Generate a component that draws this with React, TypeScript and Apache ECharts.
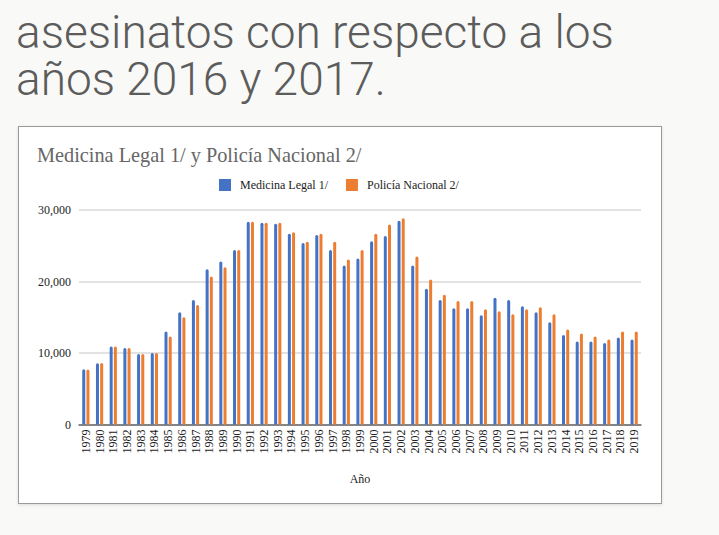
import React, { useEffect, useRef } from "react";
import * as echarts from "echarts";

const years = [
  "1979", "1980", "1981", "1982", "1983", "1984", "1985", "1986", "1987", "1988",
  "1989", "1990", "1991", "1992", "1993", "1994", "1995", "1996", "1997", "1998",
  "1999", "2000", "2001", "2002", "2003", "2004", "2005", "2006", "2007", "2008",
  "2009", "2010", "2011", "2012", "2013", "2014", "2015", "2016", "2017", "2018", "2019",
];

const medicinaLegal = [
  7730, 8570, 10900, 10700, 9870, 10000, 13000, 15700, 17400, 21700,
  22800, 24400, 28350, 28200, 28070, 26670, 25370, 26490, 24390, 22240,
  23220, 25640, 26350, 28490, 22240, 18970, 17400, 16270, 16270, 15280,
  17710, 17430, 16540, 15700, 14300, 12530, 11600, 11600, 11400, 12160, 11880,
];

const policiaNacional = [
  7700, 8600, 10900, 10700, 9870, 10000, 12300, 15000, 16700, 20700,
  22000, 24400, 28350, 28200, 28200, 26900, 25550, 26670, 25550, 23080,
  24390, 26670, 27980, 28860, 23500, 20280, 18130, 17290, 17290, 16120,
  15840, 15420, 16120, 16400, 15420, 13280, 12720, 12300, 11880, 13000, 13000,
];

const seriesNames = ["Medicina Legal 1/", "Policía Nacional 2/"];
const slideLines = ["asesinatos con respecto a los", "años 2016 y 2017."];
const chartTitle = "Medicina Legal 1/ y Policía Nacional 2/";
const xAxisName = "Año";
const yMin = 0;
const yMax = 30000;
const yInterval = 10000;

const SERIF = "'Liberation Serif', 'Times New Roman', serif";

export default function App() {
  const ref = useRef<HTMLDivElement>(null);

  useEffect(() => {
    document.body.style.margin = "0";
    const chart = echarts.init(ref.current!, null, { renderer: "svg" });
    chart.setOption({
      animation: false,
      color: ["#4472C4", "#ED7D31"],
      textStyle: { fontFamily: SERIF },
      graphic: [
        {
          type: "text",
          x: 16,
          y: 8,
          style: {
            text: slideLines.join("\n"),
            font: "300 46px Roboto",
            lineHeight: 47,
            fill: "#5c5c5c",
            textAlign: "left",
            textVerticalAlign: "top",
            verticalAlign: "top",
          },
        },
        {
          type: "text",
          x: 37,
          y: 155,
          style: {
            text: chartTitle,
            font: "20.3px " + SERIF,
            fill: "#666666",
            textAlign: "left",
            textVerticalAlign: "middle",
            verticalAlign: "middle",
          },
        },
      ],
      legend: {
        left: 214,
        top: 174,
        itemWidth: 12,
        itemHeight: 12,
        itemGap: 18,
        icon: "rect",
        data: seriesNames,
        textStyle: {
          fontFamily: SERIF,
          fontSize: 12,
          color: "#222222",
          padding: [0, 0, 0, 4],
        },
      },
      grid: {
        left: 79,
        right: 78,
        top: 210,
        height: 214.5,
        containLabel: false,
      },
      xAxis: {
        type: "category",
        data: years,
        name: xAxisName,
        nameLocation: "middle",
        nameGap: 48,
        nameTextStyle: { fontFamily: SERIF, fontSize: 12, color: "#222222" },
        axisLine: { lineStyle: { color: "#666666", width: 1.5 } },
        axisTick: { show: false },
        axisLabel: {
          rotate: 90,
          interval: 0,
          margin: 5,
          fontFamily: SERIF,
          fontSize: 12,
          color: "#222222",
        },
      },
      yAxis: {
        type: "value",
        min: yMin,
        max: yMax,
        interval: yInterval,
        axisLine: { show: false },
        axisTick: { show: false },
        splitLine: { lineStyle: { color: "#d9d9d9", width: 1.5 } },
        axisLabel: {
          margin: 8,
          fontFamily: SERIF,
          fontSize: 12,
          color: "#222222",
          formatter: (v: number) => v.toLocaleString("en-US"),
        },
      },
      series: [
        {
          name: seriesNames[0],
          type: "bar",
          data: medicinaLegal,
          barWidth: 3,
          barGap: "40%",
          itemStyle: { color: "#4472C4", borderRadius: [1.5, 1.5, 0, 0] },
        },
        {
          name: seriesNames[1],
          type: "bar",
          data: policiaNacional,
          barWidth: 3,
          barGap: "40%",
          itemStyle: { color: "#ED7D31", borderRadius: [1.5, 1.5, 0, 0] },
        },
      ],
    });
    return () => chart.dispose();
  }, []);

  return (
    <div
      style={{
        position: "absolute",
        left: 0,
        top: 0,
        width: 719,
        height: 535,
        background: "#f9f9f7",
        overflow: "hidden",
      }}
    >
      <div
        style={{
          position: "absolute",
          left: 18,
          top: 126,
          width: 644,
          height: 378,
          boxSizing: "border-box",
          background: "#ffffff",
          border: "1.5px solid #9a9a9a",
          boxShadow: "0 1px 3px rgba(0,0,0,0.12)",
        }}
      />
      <div
        ref={ref}
        style={{ position: "absolute", left: 0, top: 0, width: 719, height: 535 }}
      />
    </div>
  );
}
